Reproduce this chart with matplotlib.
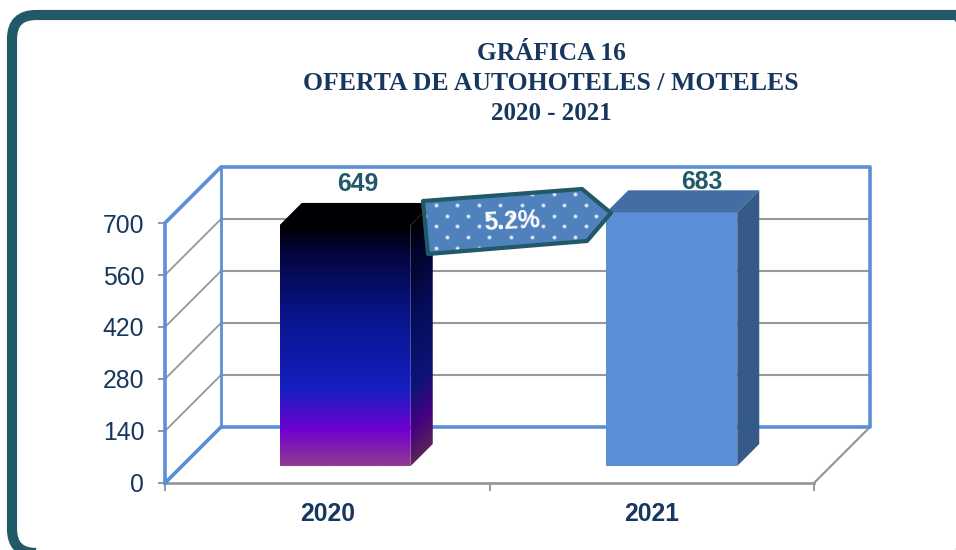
import numpy as np
import matplotlib
matplotlib.use('Agg')
import matplotlib.pyplot as plt
from matplotlib.colors import LinearSegmentedColormap
from matplotlib.patches import FancyBboxPatch, Polygon

years = ['2020', '2021']
oferta = [649, 683]
y_ticks = [0, 140, 280, 420, 560, 700]
title_lines = ['GRÁFICA 16', 'OFERTA DE AUTOHOTELES / MOTELES', '2020 - 2021']
variacion = '5.2%'

TEAL = '#215968'
NAVY = '#17375E'
BLUE = '#5B8FD8'
GRAY = '#989898'

plt.rcParams['font.family'] = ['Liberation Sans', 'DejaVu Sans']

W, H = 956, 550
fig = plt.figure(figsize=(W / 100, H / 100), dpi=100, facecolor='white')

# front plane of the fake 3D box: x 165..814, y 483..223 in pixels
ax = fig.add_axes([165 / W, 1 - 483 / H, 649 / W, 260 / H])
ax.set_xlim(0, 2)
ax.set_ylim(0, 700)
ax.patch.set_alpha(0)
for s in ax.spines.values():
    s.set_visible(False)

# pixel size in data units, used for the depth offsets
ux = 2 / 649
uy = 700 / 260
depth_x = 56 * ux
depth_y = 56 * uy

# walls
for v in y_ticks[1:]:
    ax.plot([0, depth_x], [v, v + depth_y], color=GRAY, lw=1.3, clip_on=False, zorder=1)
    ax.plot([depth_x, 2 + depth_x], [v + depth_y, v + depth_y], color=GRAY, lw=1.5,
            clip_on=False, zorder=1)
ax.plot([0, 2], [0, 0], color=GRAY, lw=2, clip_on=False, zorder=1)
ax.plot([2, 2 + depth_x], [0, depth_y], color=GRAY, lw=1.6, clip_on=False, zorder=1)

wall_x = [0, 0, depth_x, 2 + depth_x, 2 + depth_x, depth_x, 0]
wall_y = [0, 700, 700 + depth_y, 700 + depth_y, depth_y, depth_y, 0]
ax.plot(wall_x, wall_y, color=BLUE, lw=2.6, clip_on=False, zorder=2, solid_joinstyle='round')
ax.plot([depth_x, depth_x], [depth_y, 700 + depth_y], color=BLUE, lw=2, clip_on=False, zorder=2)

# ticks and labels
ax.set_yticks(y_ticks)
ax.set_yticklabels([str(v) for v in y_ticks], fontsize=17.8, color=NAVY)
ax.tick_params(axis='y', length=5, width=1.4, color=GRAY, pad=10)
ax.set_xticks([0, 1, 2])
ax.set_xticklabels(['', '', ''])
ax.tick_params(axis='x', which='major', length=6, width=1.4, color=GRAY)
ax.set_xticks([0.5, 1.5], minor=True)
ax.set_xticklabels(years, minor=True, fontsize=17.8, fontweight='bold', color=NAVY)
ax.tick_params(axis='x', which='minor', length=0, pad=14)

# bars
bar_w = 131 * ux
shift_x = [18 * ux, 20 * ux]
shift_y = 17 * uy
bar_dx = 22 * ux
bar_dy = 22 * uy

grad = LinearSegmentedColormap.from_list('grad', [
    (0.0, '#000000'), (0.1, '#000008'), (0.2, '#030640'), (0.455, '#0A1590'),
    (0.71, '#1520C0'), (0.866, '#7000D0'), (1.0, '#903A90')])


def bar_corners(i, v):
    left = i + 0.5 - bar_w / 2 + shift_x[i]
    right = left + bar_w
    bottom = shift_y
    top = bottom + v
    return left, right, bottom, top


# first bar: gradient running over top, front and side
left, right, bottom, top = bar_corners(0, oferta[0])
y_top = top + bar_dy
front_top = Polygon([(left, bottom), (left, top), (left + bar_dx, y_top), (right + bar_dx, y_top),
                     (right, top), (right, bottom)], closed=True, transform=ax.transData,
                    fc='none', ec='none')
ax.add_patch(front_top)
img = np.linspace(0, 1, 300).reshape(-1, 1)
im = ax.imshow(img, cmap=grad, aspect='auto', extent=[left, right + bar_dx, bottom, y_top],
               origin='upper', zorder=4)
im.set_clip_box(fig.bbox)
im.set_clip_path(front_top)

side = Polygon([(right, bottom), (right, top), (right + bar_dx, y_top), (right + bar_dx, bottom + bar_dy)],
               closed=True, transform=ax.transData, fc='none', ec='none')
ax.add_patch(side)
ny, nx = 300, 30
yy = np.linspace(0, 1, ny).reshape(-1, 1)
xx = np.linspace(0, 1, nx).reshape(1, -1)
side_t = np.clip(yy + xx * 22 / 262, 0, 1)
side_rgb = grad(side_t)[..., :3] * 0.62
im2 = ax.imshow(side_rgb, aspect='auto', extent=[right, right + bar_dx, bottom, y_top],
                origin='upper', zorder=5)
im2.set_clip_box(fig.bbox)
im2.set_clip_path(side)
ax.set_xlim(0, 2)
ax.set_ylim(0, 700)

# second bar: flat colours
left, right, bottom, top = bar_corners(1, oferta[1])
y_top = top + bar_dy
ax.add_patch(Polygon([(left, bottom), (right, bottom), (right, top), (left, top)], closed=True,
                     fc='#5B8ED6', ec='none', zorder=4, clip_on=False))
ax.add_patch(Polygon([(left, top), (right, top), (right + bar_dx, y_top), (left + bar_dx, y_top)],
                     closed=True, fc='#426EA3', ec='none', zorder=4, clip_on=False))
ax.add_patch(Polygon([(right, bottom), (right + bar_dx, bottom + bar_dy), (right + bar_dx, y_top), (right, top)],
                     closed=True, fc='#355A88', ec='none', zorder=4, clip_on=False))

# value labels above the bars, placed by hand in the original
label_dx = [12, 30]
label_dy = [7, -4]
for i, v in enumerate(oferta):
    left, right, bottom, top = bar_corners(i, v)
    ax.text((left + right) / 2 + label_dx[i] * ux, top + bar_dy + label_dy[i] * uy, str(v),
            ha='center', va='bottom', fontsize=17.8, fontweight='bold', color=TEAL,
            zorder=6, clip_on=False)

# frame, y up so the rounded corners stay round
fr = fig.add_axes([0, 0, 1, 1], zorder=4)
fr.set_xlim(0, W)
fr.set_ylim(0, H)
fr.axis('off')
fr.patch.set_alpha(0)
fr.add_patch(FancyBboxPatch((12, -3), 968, 538, boxstyle='round,pad=0,rounding_size=24',
                            fc='none', ec=TEAL, lw=7.3))

# overlay in pixel coordinates for the callout and the title
ov = fig.add_axes([0, 0, 1, 1], zorder=5)
ov.set_xlim(0, W)
ov.set_ylim(H, 0)
ov.axis('off')
ov.patch.set_alpha(0)

callout = Polygon([(423, 201), (582, 189), (611, 213), (587, 241), (428, 254)], closed=True,
                  fc='#4F81BD', ec='none', zorder=2)
ov.add_patch(callout)
dot_x, dot_y = [], []
for r in range(6):
    for c in range(10):
        dot_x.append(414.6 + c * 21.4 + (10.7 if r % 2 == 0 else 0))
        dot_y.append(194.3 + r * 10.7)
halo = ov.scatter(dot_x, dot_y, s=12, color='#A9C2E4', alpha=0.6, linewidths=0, zorder=3)
halo.set_clip_path(callout)
dots = ov.scatter(dot_x, dot_y, s=4, color='#F2F6FC', linewidths=0, zorder=3)
dots.set_clip_path(callout)
ov.add_patch(Polygon(callout.get_xy(), closed=True, fc='none', ec=TEAL, lw=3, zorder=4,
                     joinstyle='round'))
ov.text(512, 222, variacion, ha='center', va='center', rotation=3, fontsize=17.8,
        fontweight='bold', color='white', zorder=5)

# title
title_y = [53, 84, 114]
title_fs = [18.3, 18.5, 17.9]
for line, y, fs in zip(title_lines, title_y, title_fs):
    ov.text(551, y, line, ha='center', va='center', fontsize=fs, fontweight='bold',
            color=NAVY, family=['Liberation Serif', 'DejaVu Serif'])

fig.savefig('out.png', dpi=100)
